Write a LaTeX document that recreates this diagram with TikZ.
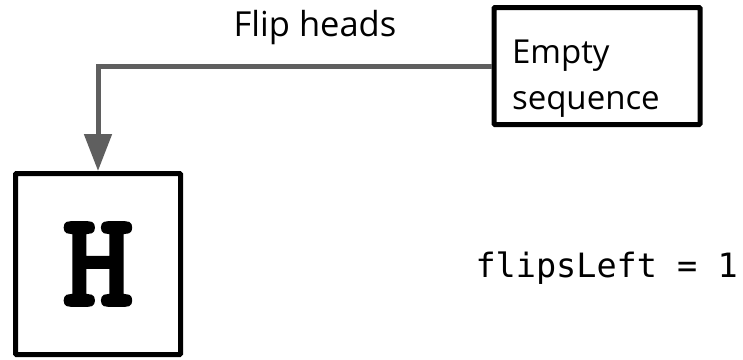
\documentclass[tikz,border=0pt]{standalone}
\usepackage{fontspec}
\setmainfont{Open Sans}
\setmonofont{DejaVu Sans Mono}
\newfontfamily\slabmono[FakeBold=2]{Latin Modern Mono Light}
\usetikzlibrary{arrows.meta}
\definecolor{arrowgray}{HTML}{5F5F5F}
\tikzset{
  box/.style={draw, line width=5pt, rounded corners=1pt},
  flow/.style={draw=arrowgray, line width=5pt, -{Triangle[length=37pt,width=27pt]}}
}
\begin{document}
\begin{tikzpicture}[x=1pt, y=-1pt]
\useasboundingbox (0,0) rectangle (743,359);

\node[box, minimum width=206pt, minimum height=117pt] (empty) at (597,66) {\parbox[c][94pt][b]{170pt}{\fontsize{33}{46}\selectfont Empty\\sequence}};
\node[box, minimum width=165pt, minimum height=181pt, font=\slabmono\bfseries\fontsize{136}{136}\selectfont] (heads) at (98,264) {\raisebox{-9pt}{H}};

\draw[flow] (empty.west) -| (heads.north);
\node[font=\fontsize{34.5}{40}\selectfont] (fliplabel) at (315,28) {Flip heads};

\node[font=\ttfamily\fontsize{33.5}{40}\selectfont, anchor=base west] (counter) at (472,277) {flipsLeft = 1};
\end{tikzpicture}
\end{document}
